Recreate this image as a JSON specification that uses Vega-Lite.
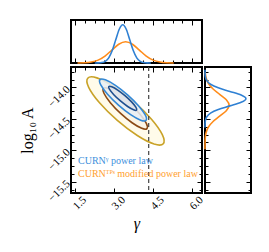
{
 "$schema": "https://vega.github.io/schema/vega-lite/v6.json",
 "autosize": {"type": "pad"},
 "padding": {"left": 18, "top": 18, "right": 0, "bottom": 0},
 "background": "white",
 "datasets": {
  "contours": [
   {"c":"gold","i":0,"g":4.892,"L":-14.896},{"c":"gold","i":1,"g":4.539,"L":-14.901},{"c":"gold","i":2,"g":3.890,"L":-14.765},{"c":"gold","i":3,"g":3.120,"L":-14.524},{"c":"gold","i":4,"g":2.434,"L":-14.243},{"c":"gold","i":5,"g":2.017,"L":-13.997},{"c":"gold","i":6,"g":1.980,"L":-13.852},{"c":"gold","i":7,"g":2.333,"L":-13.847},{"c":"gold","i":8,"g":2.982,"L":-13.983},{"c":"gold","i":9,"g":3.752,"L":-14.224},{"c":"gold","i":10,"g":4.438,"L":-14.505},{"c":"gold","i":11,"g":4.855,"L":-14.751},
   {"c":"brown","i":0,"g":4.262,"L":-14.655},{"c":"brown","i":1,"g":4.061,"L":-14.651},{"c":"brown","i":2,"g":3.690,"L":-14.562},{"c":"brown","i":3,"g":3.247,"L":-14.413},{"c":"brown","i":4,"g":2.852,"L":-14.242},{"c":"brown","i":5,"g":2.610,"L":-14.096},{"c":"brown","i":6,"g":2.586,"L":-14.014},{"c":"brown","i":7,"g":2.787,"L":-14.017},{"c":"brown","i":8,"g":3.158,"L":-14.106},{"c":"brown","i":9,"g":3.601,"L":-14.255},{"c":"brown","i":10,"g":3.996,"L":-14.426},{"c":"brown","i":11,"g":4.239,"L":-14.572},
   {"c":"blue2","i":0,"g":4.229,"L":-14.523},{"c":"blue2","i":1,"g":4.022,"L":-14.520},{"c":"blue2","i":2,"g":3.633,"L":-14.432},{"c":"blue2","i":3,"g":3.165,"L":-14.281},{"c":"blue2","i":4,"g":2.744,"L":-14.108},{"c":"blue2","i":5,"g":2.482,"L":-13.960},{"c":"blue2","i":6,"g":2.451,"L":-13.875},{"c":"blue2","i":7,"g":2.658,"L":-13.878},{"c":"blue2","i":8,"g":3.047,"L":-13.966},{"c":"blue2","i":9,"g":3.515,"L":-14.117},{"c":"blue2","i":10,"g":3.936,"L":-14.290},{"c":"blue2","i":11,"g":4.198,"L":-14.438},
   {"c":"blue1","i":0,"g":3.864,"L":-14.360},{"c":"blue1","i":1,"g":3.748,"L":-14.356},{"c":"blue1","i":2,"g":3.520,"L":-14.303},{"c":"blue1","i":3,"g":3.241,"L":-14.215},{"c":"blue1","i":4,"g":2.985,"L":-14.115},{"c":"blue1","i":5,"g":2.821,"L":-14.031},{"c":"blue1","i":6,"g":2.793,"L":-13.985},{"c":"blue1","i":7,"g":2.908,"L":-13.988},{"c":"blue1","i":8,"g":3.136,"L":-14.041},{"c":"blue1","i":9,"g":3.415,"L":-14.130},{"c":"blue1","i":10,"g":3.671,"L":-14.229},{"c":"blue1","i":11,"g":3.835,"L":-14.313}
  ],
  "margX": [
   {"s":"CURN","g":2.25,"d":0.0003},{"s":"CURN","g":2.385,"d":0.002},{"s":"CURN","g":2.52,"d":0.0099},{"s":"CURN","g":2.655,"d":0.039},{"s":"CURN","g":2.79,"d":0.12},{"s":"CURN","g":2.925,"d":0.289},{"s":"CURN","g":3.06,"d":0.54},{"s":"CURN","g":3.195,"d":0.785},{"s":"CURN","g":3.33,"d":0.89},{"s":"CURN","g":3.465,"d":0.785},{"s":"CURN","g":3.6,"d":0.54},{"s":"CURN","g":3.735,"d":0.289},{"s":"CURN","g":3.87,"d":0.12},{"s":"CURN","g":4.005,"d":0.039},{"s":"CURN","g":4.14,"d":0.0099},{"s":"CURN","g":4.275,"d":0.002},{"s":"CURN","g":4.41,"d":0.0003},
   {"s":"TPS","g":1.585,"d":0.0011},{"s":"TPS","g":1.85,"d":0.0055},{"s":"TPS","g":2.115,"d":0.0217},{"s":"TPS","g":2.38,"d":0.067},{"s":"TPS","g":2.645,"d":0.1607},{"s":"TPS","g":2.91,"d":0.3},{"s":"TPS","g":3.175,"d":0.4368},{"s":"TPS","g":3.44,"d":0.495},{"s":"TPS","g":3.705,"d":0.4368},{"s":"TPS","g":3.97,"d":0.3},{"s":"TPS","g":4.235,"d":0.1607},{"s":"TPS","g":4.5,"d":0.067},{"s":"TPS","g":4.765,"d":0.0217},{"s":"TPS","g":5.03,"d":0.0055},{"s":"TPS","g":5.295,"d":0.0011}
  ],
  "margY": [
   {"s":"CURN","L":-14.638,"d":0.0003},{"s":"CURN","L":-14.5805,"d":0.002},{"s":"CURN","L":-14.523,"d":0.0099},{"s":"CURN","L":-14.4655,"d":0.039},{"s":"CURN","L":-14.408,"d":0.12},{"s":"CURN","L":-14.3505,"d":0.289},{"s":"CURN","L":-14.293,"d":0.54},{"s":"CURN","L":-14.2355,"d":0.785},{"s":"CURN","L":-14.178,"d":0.89},{"s":"CURN","L":-14.1205,"d":0.785},{"s":"CURN","L":-14.063,"d":0.54},{"s":"CURN","L":-14.0055,"d":0.289},{"s":"CURN","L":-13.948,"d":0.12},{"s":"CURN","L":-13.8905,"d":0.039},{"s":"CURN","L":-13.833,"d":0.0099},{"s":"CURN","L":-13.7755,"d":0.002},{"s":"CURN","L":-13.718,"d":0.0003},
   {"s":"TPS","L":-14.983,"d":0.00016},{"s":"TPS","L":-14.8955,"d":0.0012},{"s":"TPS","L":-14.808,"d":0.0058},{"s":"TPS","L":-14.7205,"d":0.023},{"s":"TPS","L":-14.633,"d":0.071},{"s":"TPS","L":-14.5455,"d":0.1705},{"s":"TPS","L":-14.458,"d":0.3184},{"s":"TPS","L":-14.3705,"d":0.4633},{"s":"TPS","L":-14.283,"d":0.525},{"s":"TPS","L":-14.1955,"d":0.4633},{"s":"TPS","L":-14.108,"d":0.3184},{"s":"TPS","L":-14.0205,"d":0.1705},{"s":"TPS","L":-13.933,"d":0.071},{"s":"TPS","L":-13.8455,"d":0.023},{"s":"TPS","L":-13.758,"d":0.0058}
  ],
  "legendItems": [{"s":"CURNᵞ power law"},{"s":"CURNᵀᴾˢ modified power law"}],
  "threshold": [{"g":4.33}]
 },
 "spacing": 4,
 "bounds": "flush",
 "resolve": {"legend": {"color": "independent"}, "scale": {"color": "independent"}},
 "vconcat": [
  {
   "width": 131, "height": 43,
   "resolve": {"scale": {"x": "independent"}},
   "layer": [
    {
     "data": {"name": "margX"},
     "encoding": {
      "x": {"field": "g", "type": "quantitative", "scale": {"domain": [1.335, 6.385], "nice": false, "zero": false},
            "axis": {"orient": "bottom", "values": [1.5,1.875,2.25,2.625,3,3.375,3.75,4.125,4.5,4.875,5.25,5.625,6,6.375], "tickSize": {"condition": {"test": "datum.value % 1.5 == 0", "value": -5}, "value": -3}, "labels": false, "title": null}},
      "y": {"field": "d", "type": "quantitative", "scale": {"domain": [0, 1], "nice": false}, "axis": null}
     },
     "layer": [
      {"transform": [{"filter": "datum.s == 'TPS'"}], "mark": {"type": "line", "interpolate": "monotone", "color": "#ff8c1a", "strokeWidth": 1.6}},
      {"transform": [{"filter": "datum.s == 'CURN'"}], "mark": {"type": "line", "interpolate": "monotone", "color": "#2f80d3", "strokeWidth": 1.6}}
     ]
    },
    {
     "data": {"name": "margX"},
     "mark": {"type": "point", "opacity": 0},
     "encoding": {
      "x": {"field": "g", "type": "quantitative", "scale": {"domain": [1.335, 6.385], "nice": false, "zero": false},
            "axis": {"orient": "top", "values": [1.5,1.875,2.25,2.625,3,3.375,3.75,4.125,4.5,4.875,5.25,5.625,6,6.375], "tickSize": {"condition": {"test": "datum.value % 1.5 == 0", "value": -5}, "value": -3}, "labels": false, "title": null}},
      "y": {"field": "d", "type": "quantitative", "scale": {"domain": [0, 1], "nice": false}, "axis": null}
     }
    }
   ]
  },
  {
   "spacing": 3,
   "bounds": "flush",
   "resolve": {"legend": {"color": "independent"}, "scale": {"color": "independent"}},
   "hconcat": [
    {
     "width": 131, "height": 126,
     "resolve": {"scale": {"x": "independent", "y": "independent"}},
     "layer": [
      {
       "layer": [
        {
         "data": {"name": "contours"},
         "encoding": {
          "x": {"field": "g", "type": "quantitative", "scale": {"domain": [1.335, 6.385], "nice": false, "zero": false},
                "axis": {"orient": "bottom", "values": [1.5,1.875,2.25,2.625,3,3.375,3.75,4.125,4.5,4.875,5.25,5.625,6,6.375], "tickSize": {"condition": {"test": "datum.value % 1.5 == 0", "value": -5}, "value": -3}, "labelExpr": "datum.value % 1.5 == 0 ? format(datum.value, '.1f') : ''", "labelAngle": -45, "labelAlign": "right", "labelBaseline": "middle", "labelPadding": 10, "labelOffset": 9, "labelOverlap": false, "labelFlush": false, "labelBound": false, "title": "γ", "titleFontSize": 16, "titleFontStyle": "italic", "titlePadding": 4}},
          "y": {"field": "L", "type": "quantitative", "scale": {"domain": [-15.68, -13.674], "nice": false, "zero": false},
                "axis": {"orient": "left", "values": [-13.75,-13.875,-14,-14.125,-14.25,-14.375,-14.5,-14.625,-14.75,-14.875,-15,-15.125,-15.25,-15.375,-15.5,-15.625], "tickSize": {"condition": {"test": "datum.value % 0.5 == 0", "value": -5}, "value": -3}, "labelExpr": "datum.value % 0.5 == 0 ? format(datum.value, '.1f') : ''", "labelAngle": -45, "labelAlign": "right", "labelBaseline": "middle", "labelPadding": 8, "labelOverlap": false, "labelFlush": false, "labelBound": false, "title": "log₁₀ A", "titleFontSize": 16, "titlePadding": 10}},
          "order": {"field": "i", "type": "quantitative"}
         },
         "layer": [
          {"transform": [{"filter": "datum.c == 'gold'"}], "mark": {"type": "line", "interpolate": "cardinal-closed", "stroke": "#c9a227", "strokeWidth": 1.6, "fill": "#fffbea"}},
          {"transform": [{"filter": "datum.c == 'brown'"}], "mark": {"type": "line", "interpolate": "cardinal-closed", "stroke": "#8b4a14", "strokeWidth": 1.6, "fill": "#fcf5e4"}},
          {"transform": [{"filter": "datum.c == 'blue2'"}], "mark": {"type": "line", "interpolate": "cardinal-closed", "stroke": "#3388d6", "strokeWidth": 1.6, "fill": "#e8eff6", "fillOpacity": 0.85}},
          {"transform": [{"filter": "datum.c == 'blue1'"}], "mark": {"type": "line", "interpolate": "cardinal-closed", "stroke": "#1f4f8f", "strokeWidth": 1.6, "fill": "#e2e5ea"}}
         ]
        },
        {
         "data": {"name": "threshold"},
         "mark": {"type": "rule", "strokeDash": [4, 3], "color": "#444444", "strokeWidth": 1.2},
         "encoding": {"x": {"field": "g", "type": "quantitative"}}
        },
        {
         "data": {"name": "legendItems"},
         "mark": {"type": "point", "opacity": 0},
         "encoding": {
          "color": {"field": "s", "type": "nominal", "scale": {"domain": ["CURNᵞ power law", "CURNᵀᴾˢ modified power law"], "range": ["#3d8fdc", "#ffa02e"]},
                    "legend": {"orient": "bottom-left", "title": null, "offset": 14, "padding": 0, "symbolSize": 0, "symbolOpacity": 0, "symbolStrokeWidth": 0, "labelOffset": -17, "rowPadding": 3, "labelFont": "Liberation Serif", "labelFontSize": 10, "labelLimit": 200,
                               "labelColor": {"expr": "indexof(datum.label, 'modified') >= 0 ? '#ffa02e' : '#3d8fdc'"}}}
         }
        }
       ]
      },
      {
       "data": {"name": "contours"},
       "mark": {"type": "point", "opacity": 0},
       "encoding": {
        "x": {"field": "g", "type": "quantitative", "scale": {"domain": [1.335, 6.385], "nice": false, "zero": false},
              "axis": {"orient": "top", "values": [1.5,1.875,2.25,2.625,3,3.375,3.75,4.125,4.5,4.875,5.25,5.625,6,6.375], "tickSize": {"condition": {"test": "datum.value % 1.5 == 0", "value": -5}, "value": -3}, "labels": false, "title": null}},
        "y": {"field": "L", "type": "quantitative", "scale": {"domain": [-15.68, -13.674], "nice": false, "zero": false},
              "axis": {"orient": "right", "values": [-13.75,-13.875,-14,-14.125,-14.25,-14.375,-14.5,-14.625,-14.75,-14.875,-15,-15.125,-15.25,-15.375,-15.5,-15.625], "tickSize": {"condition": {"test": "datum.value % 0.5 == 0", "value": -5}, "value": -3}, "labels": false, "title": null}}
       }
      }
     ]
    },
    {
     "width": 46, "height": 126,
     "resolve": {"scale": {"y": "independent"}},
     "layer": [
      {
       "data": {"name": "margY"},
       "encoding": {
        "x": {"field": "d", "type": "quantitative", "scale": {"domain": [0, 1], "nice": false}, "axis": null},
        "y": {"field": "L", "type": "quantitative", "scale": {"domain": [-15.68, -13.674], "nice": false, "zero": false},
              "axis": {"orient": "left", "values": [-13.75,-13.875,-14,-14.125,-14.25,-14.375,-14.5,-14.625,-14.75,-14.875,-15,-15.125,-15.25,-15.375,-15.5,-15.625], "tickSize": {"condition": {"test": "datum.value % 0.5 == 0", "value": -5}, "value": -3}, "labels": false, "title": null}},
        "order": {"field": "L", "type": "quantitative"}
       },
       "layer": [
        {"transform": [{"filter": "datum.s == 'TPS'"}], "mark": {"type": "line", "interpolate": "cardinal", "color": "#ff8c1a", "strokeWidth": 1.6}},
        {"transform": [{"filter": "datum.s == 'CURN'"}], "mark": {"type": "line", "interpolate": "cardinal", "color": "#2f80d3", "strokeWidth": 1.6}}
       ]
      },
      {
       "data": {"name": "margY"},
       "mark": {"type": "point", "opacity": 0},
       "encoding": {
        "x": {"field": "d", "type": "quantitative", "scale": {"domain": [0, 1], "nice": false}, "axis": null},
        "y": {"field": "L", "type": "quantitative", "scale": {"domain": [-15.68, -13.674], "nice": false, "zero": false},
              "axis": {"orient": "right", "values": [-13.75,-13.875,-14,-14.125,-14.25,-14.375,-14.5,-14.625,-14.75,-14.875,-15,-15.125,-15.25,-15.375,-15.5,-15.625], "tickSize": {"condition": {"test": "datum.value % 0.5 == 0", "value": -5}, "value": -3}, "labels": false, "title": null}}
       }
      }
     ]
    }
   ]
  }
 ],
 "config": {
  "view": {"stroke": "black", "strokeWidth": 2},
  "axis": {"domain": false, "grid": false, "tickColor": "black", "tickWidth": 1, "labelFont": "Liberation Serif", "labelFontSize": 11, "labelColor": "black", "titleFont": "Liberation Serif", "titleColor": "black", "titleFontWeight": "normal"}
 }
}
